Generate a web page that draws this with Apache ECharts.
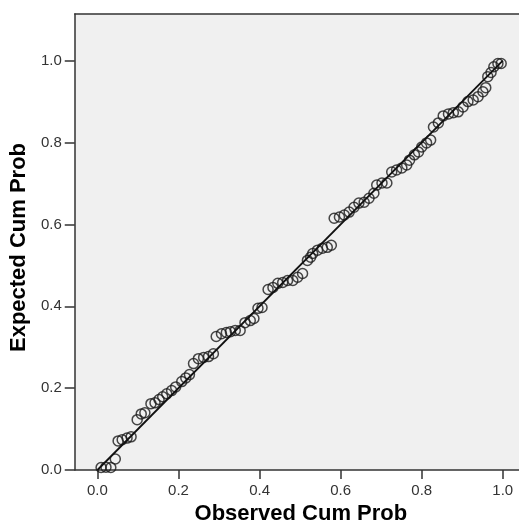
<!DOCTYPE html>
<html>
<head>
<meta charset="utf-8">
<script src="https://cdn.jsdelivr.net/npm/echarts@6/dist/echarts.min.js"></script>
<style>
html,body{margin:0;padding:0;background:#fff;}
#chart{width:519px;height:530px;}
</style>
</head>
<body>
<div id="chart"></div>
<script>
// Observed cumulative probability (x)
const observedCumProb = [
  0.009, 0.021, 0.033, 0.044, 0.051, 0.061, 0.073, 0.083, 0.098, 0.108,
  0.117, 0.132, 0.142, 0.152, 0.161, 0.171, 0.183, 0.193, 0.208, 0.218,
  0.227, 0.237, 0.249, 0.262, 0.274, 0.286, 0.293, 0.306, 0.318, 0.328,
  0.340, 0.352, 0.364, 0.377, 0.386, 0.396, 0.406, 0.421, 0.433, 0.445,
  0.457, 0.469, 0.482, 0.494, 0.506, 0.518, 0.526, 0.531, 0.543, 0.555,
  0.567, 0.577, 0.584, 0.597, 0.609, 0.621, 0.633, 0.645, 0.658, 0.670,
  0.682, 0.689, 0.702, 0.714, 0.726, 0.738, 0.751, 0.763, 0.770, 0.782,
  0.792, 0.800, 0.812, 0.822, 0.829, 0.841, 0.853, 0.866, 0.878, 0.890,
  0.902, 0.914, 0.927, 0.939, 0.951, 0.958, 0.963, 0.971, 0.978, 0.988,
  0.996
];
// Expected cumulative probability (y)
const expectedCumProb = [
  0.006, 0.007, 0.006, 0.027, 0.071, 0.074, 0.078, 0.081, 0.123, 0.137,
  0.140, 0.162, 0.164, 0.172, 0.179, 0.186, 0.194, 0.203, 0.216, 0.225,
  0.233, 0.260, 0.272, 0.275, 0.277, 0.284, 0.326, 0.333, 0.336, 0.338,
  0.341, 0.341, 0.360, 0.365, 0.370, 0.395, 0.397, 0.441, 0.446, 0.456,
  0.458, 0.463, 0.463, 0.471, 0.480, 0.512, 0.520, 0.529, 0.537, 0.542,
  0.544, 0.549, 0.615, 0.618, 0.623, 0.630, 0.642, 0.652, 0.654, 0.664,
  0.676, 0.696, 0.701, 0.701, 0.728, 0.733, 0.738, 0.745, 0.757, 0.770,
  0.777, 0.789, 0.799, 0.806, 0.838, 0.848, 0.865, 0.870, 0.873, 0.875,
  0.887, 0.900, 0.904, 0.912, 0.924, 0.934, 0.961, 0.971, 0.985, 0.993,
  0.993
];
// Reference (diagonal) line end points
const referenceLine = [[0, 0], [1, 1]];
// Tick labels
const xTicks = [0.0, 0.2, 0.4, 0.6, 0.8, 1.0];
const yTicks = [0.0, 0.2, 0.4, 0.6, 0.8, 1.0];
const xTitle = 'Observed Cum Prob';
const yTitle = 'Expected Cum Prob';

const points = observedCumProb.map((x, i) => [x, expectedCumProb[i]]);

const FONT = '"Liberation Sans", Arial, sans-serif';
const chart = echarts.init(document.getElementById('chart'), null, {renderer: 'canvas'});
chart.setOption({
  backgroundColor: '#ffffff',
  animation: false,
  grid: {
    left: 70, right: 0, top: 14, bottom: 60,
    show: true, backgroundColor: '#F0F0F0', borderWidth: 0
  },
  xAxis: [{
    type: 'value',
    min: -0.056, max: 1.04,
    name: xTitle,
    nameLocation: 'middle',
    nameGap: 32,
    nameTextStyle: {fontFamily: FONT, fontSize: 22, fontWeight: 'bold', color: '#000', padding: [0, 0, 0, 8]},
    axisLine: {show: true, onZero: false, lineStyle: {color: '#333', width: 1.5}},
    axisTick: {show: true, length: 9, customValues: xTicks, lineStyle: {color: '#333', width: 1.5}},
    axisLabel: {
      customValues: xTicks,
      formatter: v => v.toFixed(1),
      fontFamily: FONT, fontSize: 15, color: '#333', margin: 13
    },
    splitLine: {show: false}
  }, {
    type: 'value', position: 'top',
    min: -0.056, max: 1.04,
    axisLine: {show: true, onZero: false, lineStyle: {color: '#333', width: 1.5}},
    axisTick: {show: false}, axisLabel: {show: false}, splitLine: {show: false}
  }],
  yAxis: {
    type: 'value',
    min: 0, max: 1.114,
    name: yTitle,
    nameLocation: 'middle',
    nameGap: 44,
    nameRotate: 90,
    nameTextStyle: {fontFamily: FONT, fontSize: 22, fontWeight: 'bold', color: '#000', padding: [0, 11, 0, 0]},
    axisLine: {show: true, onZero: false, lineStyle: {color: '#333', width: 1.5}},
    axisTick: {show: true, length: 10, customValues: yTicks, lineStyle: {color: '#333', width: 1.5}},
    axisLabel: {
      customValues: yTicks,
      formatter: v => v.toFixed(1),
      fontFamily: FONT, fontSize: 15, color: '#333', margin: 13
    },
    splitLine: {show: false}
  },
  series: [{
    type: 'line',
    data: referenceLine,
    symbol: 'none',
    lineStyle: {color: '#111', width: 1.8},
    z: 3
  }, {
    type: 'scatter',
    data: points,
    symbol: 'circle',
    symbolSize: 10,
    itemStyle: {color: 'rgba(0,0,0,0)', borderColor: '#1a1a1a', borderWidth: 1.5},
    clip: true,
    z: 2
  }]
});
</script>
</body>
</html>
